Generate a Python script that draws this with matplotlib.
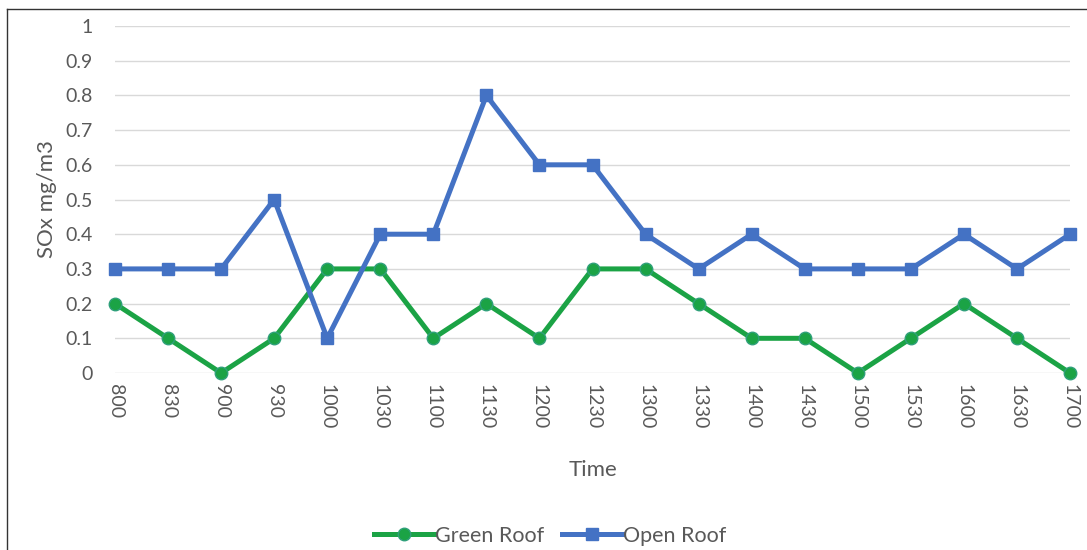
import numpy as np
import matplotlib.pyplot as plt
from matplotlib.lines import Line2D

plt.rcParams['font.family'] = ['Lato', 'DejaVu Sans']

# SOx readings over the day
times = ['800', '830', '900', '930', '1000', '1030', '1100', '1130', '1200', '1230',
         '1300', '1330', '1400', '1430', '1500', '1530', '1600', '1630', '1700']
green_roof = [0.2, 0.1, 0, 0.1, 0.3, 0.3, 0.1, 0.2, 0.1, 0.3,
              0.3, 0.2, 0.1, 0.1, 0, 0.1, 0.2, 0.1, 0]
open_roof = [0.3, 0.3, 0.3, 0.5, 0.1, 0.4, 0.4, 0.8, 0.6, 0.6,
             0.4, 0.3, 0.4, 0.3, 0.3, 0.3, 0.4, 0.3, 0.4]

text_col = '#595959'

fig = plt.figure(figsize=(10.87, 5.5), dpi=100)
ax = fig.add_axes([0.1058, 0.3218, 0.8786, 0.6309])
x = np.arange(len(times))

ax.plot(x, green_roof, color='#1BA345', lw=3.6, marker='o', ms=9,
        mfc='#1BA345', mec='#2FA07A', mew=1, clip_on=False, zorder=3,
        label='Green Roof')
ax.plot(x, open_roof, color='#4472C4', lw=3.6, marker='s', ms=9,
        mfc='#4472C4', mec='#4472C4', clip_on=False, zorder=3,
        label='Open Roof')

ax.set_xlim(0, len(times) - 1)
ax.set_ylim(0, 1)
ax.set_yticks(np.arange(0, 1.01, 0.1))
ax.set_yticklabels(['0', '0.1', '0.2', '0.3', '0.4', '0.5', '0.6', '0.7', '0.8', '0.9', '1'])
ax.set_xticks(x)
ax.set_xticklabels(times, rotation=-90)
ax.tick_params(axis='y', length=0, pad=16, labelsize=14, labelcolor=text_col)
ax.tick_params(axis='x', length=0, pad=8, labelsize=14, labelcolor=text_col)
ax.grid(axis='y', color='#D9D9D9', lw=1)
ax.set_axisbelow(True)
for s in ax.spines.values():
    s.set_visible(False)

ax.set_ylabel('SOx mg/m3', fontsize=16, color=text_col, labelpad=6)
ax.set_xlabel('Time', fontsize=16, color=text_col, labelpad=22)

fig.legend(loc='center', bbox_to_anchor=(0.506, 0.026), ncol=2, frameon=False,
           fontsize=15.5, handlelength=2.8, handletextpad=0.05, columnspacing=0.8,
           labelcolor=text_col)

# outer frame
fig.add_artist(Line2D([0.0064, 0.0064], [0, 0.9836], color='#333333', lw=1))
fig.add_artist(Line2D([0.0064, 1], [0.9836, 0.9836], color='#333333', lw=1))

fig.savefig('out.png', dpi=100)
